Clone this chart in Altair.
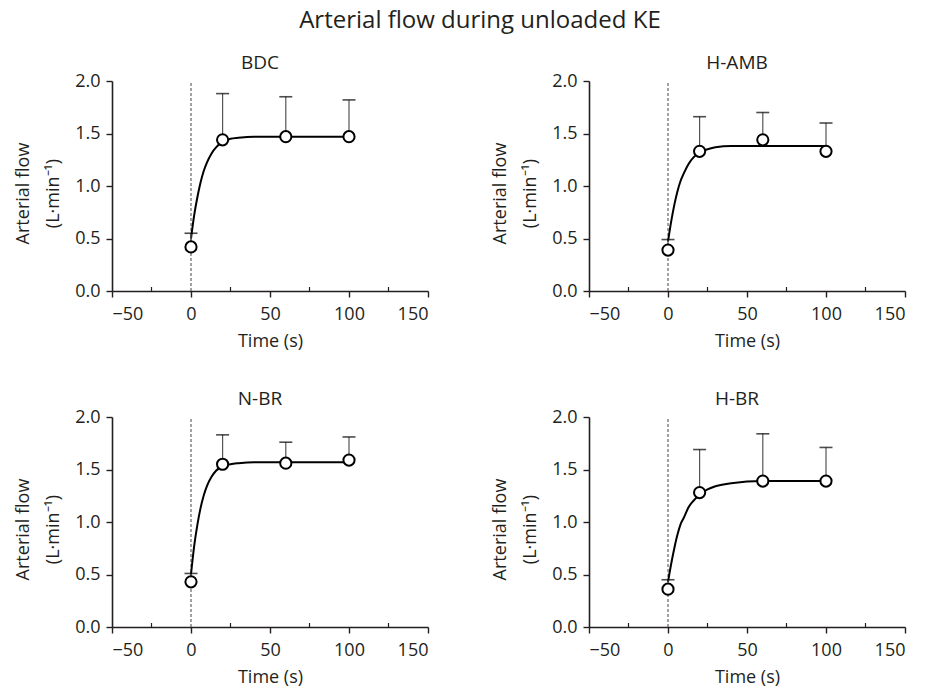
import altair as alt
import pandas as pd

FONT = "Open Sans"
INK = "#231f20"

panels = ["BDC", "H-AMB", "N-BR", "H-BR"]
times = [0, 20, 60, 100]

mean_vals = {
    "BDC":   [0.42, 1.44, 1.47, 1.47],
    "H-AMB": [0.39, 1.33, 1.44, 1.33],
    "N-BR":  [0.43, 1.55, 1.56, 1.59],
    "H-BR":  [0.36, 1.28, 1.39, 1.39],
}
err_top = {
    "BDC":   [0.55, 1.88, 1.85, 1.82],
    "H-AMB": [0.49, 1.66, 1.70, 1.60],
    "N-BR":  [0.51, 1.83, 1.76, 1.81],
    "H-BR":  [0.45, 1.69, 1.84, 1.71],
}

fit_t = [0, 2, 4, 6, 8, 10, 13, 16, 20, 25, 30, 40, 60, 100]
fit_vals = {
    "BDC":   [0.50, 0.72, 0.89, 1.03, 1.14, 1.22, 1.31, 1.37, 1.42, 1.45, 1.46, 1.47, 1.47, 1.47],
    "H-AMB": [0.47, 0.66, 0.82, 0.95, 1.05, 1.12, 1.21, 1.27, 1.32, 1.35, 1.37, 1.38, 1.38, 1.38],
    "N-BR":  [0.50, 0.77, 0.97, 1.13, 1.25, 1.34, 1.43, 1.49, 1.53, 1.55, 1.56, 1.57, 1.57, 1.57],
    "H-BR":  [0.43, 0.60, 0.75, 0.88, 0.98, 1.04, 1.14, 1.20, 1.26, 1.31, 1.34, 1.37, 1.39, 1.39],
}

x_ticks = [-50, 0, 50, 100, 150]
x_minor = [-25, 25, 75, 125]
y_ticks = [0.0, 0.5, 1.0, 1.5, 2.0]
onset = [0]

W, H = 316, 210

xs = alt.Scale(domain=[-50, 150], nice=False, zero=False)
ys = alt.Scale(domain=[0, 2], nice=False)

x_axis = alt.Axis(title="Time (s)", values=x_ticks, format="d", grid=False)
y_axis = alt.Axis(title=["Arterial flow", "(L·min⁻¹)"], values=y_ticks, format=".1f", grid=False,
                  titleY=H / 2 + 7)


def panel(name):
    pts = pd.DataFrame({"t": times, "m": mean_vals[name], "top": err_top[name]})
    fit = pd.DataFrame({"t": fit_t, "f": fit_vals[name]})
    vline = pd.DataFrame({"t": onset, "y0": [0.0], "y1": [2.0]})
    minor = pd.DataFrame({"t": x_minor})

    dash = alt.Chart(vline).mark_rule(color="#444", strokeWidth=1, strokeDash=[3, 2]).encode(
        x=alt.X("t:Q", scale=xs, axis=x_axis),
        y=alt.Y("y0:Q", scale=ys, axis=y_axis),
        y2="y1:Q",
    )
    mticks = alt.Chart(minor).mark_rule(color=INK, strokeWidth=1.2).encode(
        x=alt.X("t:Q", scale=xs),
        y=alt.value(H),
        y2=alt.value(H - 4),
    )
    curve = alt.Chart(fit).mark_line(color="black", strokeWidth=2, interpolate="monotone").encode(
        x=alt.X("t:Q", scale=xs),
        y=alt.Y("f:Q", scale=ys),
    )
    stems = alt.Chart(pts).mark_rule(color="#555", strokeWidth=1.2).encode(
        x=alt.X("t:Q", scale=xs),
        y=alt.Y("m:Q", scale=ys),
        y2="top:Q",
    )
    caps = alt.Chart(pts).mark_tick(orient="horizontal", color="black", size=13, thickness=1.6).encode(
        x=alt.X("t:Q", scale=xs),
        y=alt.Y("top:Q", scale=ys),
    )
    dots = alt.Chart(pts).mark_point(shape="circle", filled=False, fill="white", fillOpacity=1,
                                     stroke="black", strokeWidth=2, size=125, opacity=1).encode(
        x=alt.X("t:Q", scale=xs),
        y=alt.Y("m:Q", scale=ys),
    )
    return alt.layer(dash, mticks, curve, stems, caps, dots).properties(
        width=W, height=H,
        title=alt.TitleParams(name, fontSize=19, fontWeight="normal", font=FONT, color=INK,
                              anchor="middle", dx=-10, offset=-1),
    )


chart = alt.concat(
    *[panel(p) for p in panels],
    columns=2,
    spacing=alt.RowColnumber(row=126, column=161),
    bounds="flush",
    title=alt.TitleParams("Arterial flow during unloaded KE", fontSize=24, fontWeight="normal",
                          font=FONT, color=INK, anchor="middle", offset=21, dx=20),
).configure_view(stroke=None).configure_axis(
    domainColor=INK, domainWidth=1.6, tickColor=INK, tickWidth=1.4, tickSize=6,
    labelFont=FONT, labelFontSize=18, labelColor=INK,
    titleFont=FONT, titleFontSize=18, titleColor=INK, titleFontWeight="normal",
).configure_axisY(labelPadding=6, titlePadding=12.5, titleLineHeight=30).configure_axisX(
    labelPadding=8, titlePadding=9
).properties(padding={"left": 14, "top": 9, "right": 5, "bottom": 5}, background="white")

chart.save("out.html", embed_options={"renderer": "svg", "actions": False})
